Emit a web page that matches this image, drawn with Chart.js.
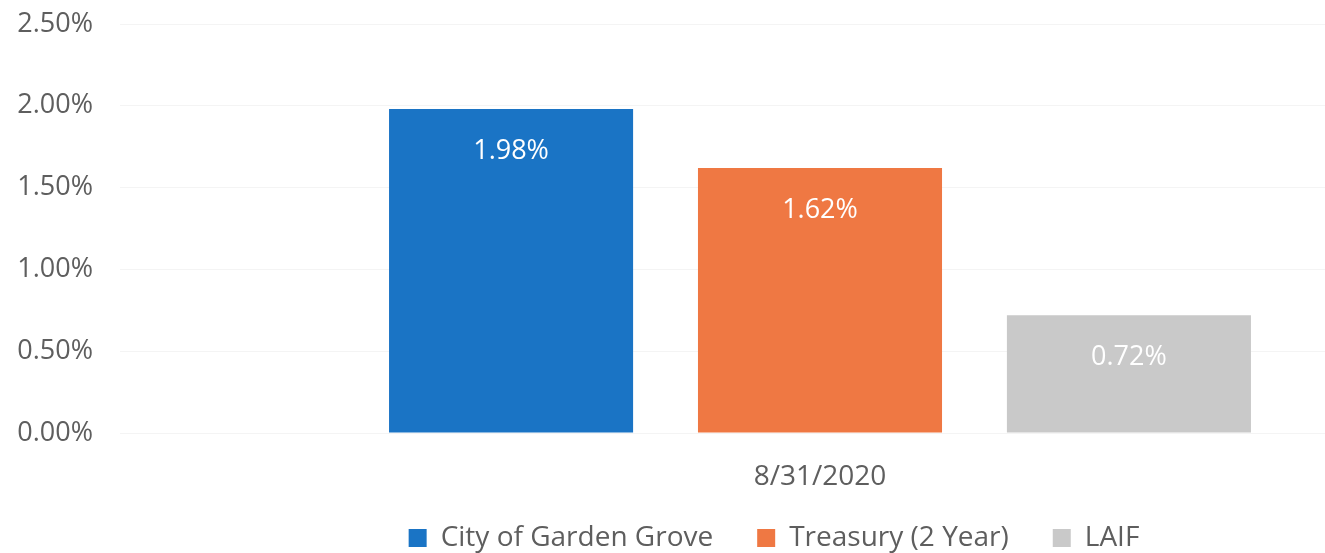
<!DOCTYPE html>
<html>
<head>
<meta charset="utf-8">
<script src="https://cdn.jsdelivr.net/npm/chart.js@4/dist/chart.umd.min.js"></script>
<style>
  html, body { margin: 0; padding: 0; background: #fff; overflow: hidden; }
  #wrap { width: 1520px; height: 572px; }
</style>
</head>
<body>
<div id="wrap"><canvas id="chart" width="1520" height="572"></canvas></div>
<script>
// data
const categories = ['8/31/2020'];
const seriesNames = ['City of Garden Grove', 'Treasury (2 Year)', 'LAIF'];
const seriesValues = [[1.98], [1.62], [0.72]];
const seriesColors = ['#1a74c5', '#ef7843', '#c9c9c9'];
const yTicks = [0, 0.5, 1, 1.5, 2, 2.5];

const FONT = "'Open Sans', sans-serif";
const textColor = '#5e5e5e';

// white value labels inside the top of each bar
const barLabels = {
    id: 'barLabels',
    afterDatasetsDraw(chart) {
        const ctx = chart.ctx;
        ctx.save();
        ctx.fillStyle = '#ffffff';
        ctx.font = '27px ' + FONT;
        ctx.textAlign = 'center';
        ctx.textBaseline = 'middle';
        chart.data.datasets.forEach((ds, i) => {
            chart.getDatasetMeta(i).data.forEach((bar, j) => {
                ctx.fillText(ds.data[j].toFixed(2) + '%', bar.x, bar.y + 42);
            });
        });
        ctx.restore();
    }
};

// nudge the legend: up towards the axis label, a bit to the right
const legendShift = {
    id: 'legendShift',
    afterLayout(chart) {
        chart.legend.top -= 10;
        chart.legend.bottom -= 10;
        chart.legend.left += 14;
        chart.legend.right += 14;
    }
};

const config = {
    type: 'bar',
    data: {
        labels: categories,
        datasets: seriesNames.map((name, i) => ({
            label: name,
            data: seriesValues[i],
            backgroundColor: seriesColors[i],
            borderWidth: 0,
            categoryPercentage: 0.662,
            barPercentage: 0.79
        }))
    },
    options: {
        responsive: false,
        animation: false,
        layout: {
            padding: { top: 24, left: 0, right: 0, bottom: 0 }
        },
        scales: {
            x: {
                grid: { display: false, drawTicks: false },
                border: { display: false },
                ticks: {
                    color: textColor,
                    font: { family: FONT, size: 28 },
                    padding: 27
                },
                afterFit: (scale) => { scale.height = 57; }
            },
            y: {
                min: 0,
                max: 2.5,
                afterBuildTicks: (scale) => {
                    scale.ticks = yTicks.map(v => ({ value: v }));
                },
                grid: { color: '#f4f4f4', lineWidth: 1, drawTicks: false },
                border: { display: false },
                ticks: {
                    color: textColor,
                    font: { family: FONT, size: 27 },
                    padding: 27,
                    callback: (v) => v.toFixed(2) + '%'
                },
                afterFit: (scale) => {
                    scale.width = 120;
                    scale.paddingTop = 0;
                    scale.paddingBottom = 0;
                }
            }
        },
        plugins: {
            legend: {
                position: 'bottom',
                labels: {
                    color: textColor,
                    font: { family: FONT, size: 28 },
                    boxWidth: 18,
                    boxHeight: 18,
                    padding: 44
                }
            },
            tooltip: { enabled: false }
        }
    },
    plugins: [barLabels, legendShift]
};

window.onload = () => {
    let ctx = document.getElementById('chart').getContext('2d');
    window.myChart = new Chart(ctx, config);
};
</script>
</body>
</html>
